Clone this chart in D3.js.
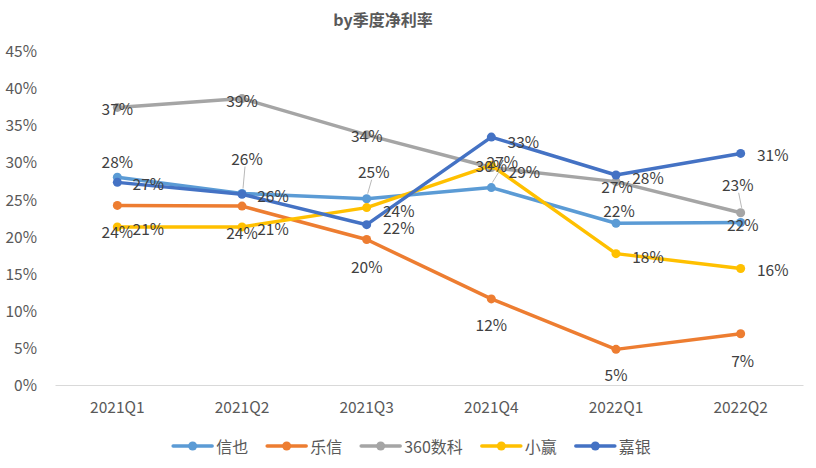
<!DOCTYPE html>
<html><head><meta charset="utf-8">
<script src="https://cdn.jsdelivr.net/npm/d3@7"></script>
<style>
html,body{margin:0;padding:0;background:#fff;}
text{font-family:"Noto Sans CJK SC","Noto Sans",sans-serif;}
</style></head>
<body><svg id="chart" width="816" height="468"></svg>
<script>
const categories = ["2021Q1","2021Q2","2021Q3","2021Q4","2022Q1","2022Q2"];
const yTicks = [0,0.05,0.10,0.15,0.20,0.25,0.30,0.35,0.40,0.45];
const seriesNames = ["信也","乐信","360数科","小赢","嘉银"];
const xinye   = [0.280,0.258,0.251,0.266,0.218,0.219];
const lexin   = [0.242,0.241,0.196,0.116,0.048,0.069];
const s360    = [0.374,0.386,0.337,0.293,0.274,0.232];
const xiaoying= [0.213,0.213,0.239,0.296,0.177,0.157];
const jiayin  = [0.273,0.257,0.216,0.334,0.283,0.312];
const seriesValues = [xinye, lexin, s360, xiaoying, jiayin];
const colors = ["#5B9BD5","#ED7D31","#A5A5A5","#FFC000","#4472C4"];
// label placement offsets (dx, dy) in px relative to each point, plus leader flag
const labelOffsets = [
  [[0,-16],[5,-36,1],[7,-28,1],[11,-27,1],[3,-13],[2,2]],
  [[0,26],[0,26],[0,26],[0,25],[0,25],[2,26]],
  [[0,1],[0,1],[0,0],[33,3],[1,4],[-3,-29,1]],
  [[31,1],[31,1],[32,2],[0,0],[32,2],[32,1]],
  [[31,1],[31,1],[32,2],[32,4],[32,2],[32,1]]
];

const svg = d3.select("#chart");
const margin = {left:55, right:13, top:51, bottom:83};
const W = 816, H = 468;
const x = d3.scaleBand().domain(categories).range([margin.left, W-margin.right]);
const y = d3.scaleLinear().domain([0,0.45]).range([H-margin.bottom, margin.top]);
const cx = d => x(d) + x.bandwidth()/2;
const fmt = d3.format(".0%");
const FS = 15.5;

// title
svg.append("text").attr("x",383).attr("y",19).attr("text-anchor","middle")
  .attr("dominant-baseline","central").attr("font-size",16).attr("font-weight","bold")
  .attr("fill","#595959").text("by季度净利率");

// y axis
const yAxis = d3.axisLeft(y).tickValues(yTicks).tickFormat(fmt).tickSize(0).tickPadding(18);
const gy = svg.append("g").attr("transform",`translate(${margin.left},0)`).call(yAxis);
gy.select(".domain").remove();
gy.selectAll("text").attr("font-size",FS).attr("fill","#595959").attr("dy","0.36em")
  .style("font-family",'"Noto Sans CJK SC","Noto Sans",sans-serif');

// x axis
const xAxis = d3.axisBottom(x).tickSize(0).tickPadding(17);
const gx = svg.append("g").attr("transform",`translate(0,${y(0)})`).call(xAxis);
gx.select(".domain").attr("stroke","#D9D9D9").attr("stroke-width",1);
gx.selectAll("text").attr("font-size",FS).attr("fill","#595959")
  .style("font-family",'"Noto Sans CJK SC","Noto Sans",sans-serif');

// lines & markers
const line = d3.line().x((d,i)=>cx(categories[i])).y(d=>y(d));
seriesValues.forEach((vals,si)=>{
  svg.append("path").datum(vals).attr("d",line).attr("fill","none")
    .attr("stroke",colors[si]).attr("stroke-width",3.5).attr("stroke-linejoin","round").attr("stroke-linecap","round");
  svg.selectAll(null).data(vals).enter().append("circle")
    .attr("cx",(d,i)=>cx(categories[i])).attr("cy",d=>y(d)).attr("r",4.5).attr("fill",colors[si]);
});

// labels
seriesValues.forEach((vals,si)=>{
  vals.forEach((v,i)=>{
    const px = cx(categories[i]), py = y(v);
    const o = labelOffsets[si][i];
    const lx = px+o[0], ly = py+o[1];
    if (o[2]) {
      svg.append("line").attr("x1",px+1).attr("y1",py-5).attr("x2",lx+(o[0]>0?-2:1)).attr("y2",ly+9)
        .attr("stroke","#A6A6A6").attr("stroke-width",0.8);
    }
    svg.append("text").attr("x",lx).attr("y",ly).attr("text-anchor","middle")
      .attr("dominant-baseline","central").attr("font-size",FS).attr("fill","#404040").text(fmt(v));
  });
});

// legend
const leg = svg.append("g");
let xpos = 0;
seriesNames.forEach((n,i)=>{
  const g = leg.append("g");
  g.append("line").attr("x1",0).attr("x2",39).attr("y1",0).attr("y2",0)
    .attr("stroke",colors[i]).attr("stroke-width",3.5).attr("stroke-linecap","round");
  g.append("circle").attr("cx",19.5).attr("cy",0).attr("r",4.5).attr("fill",colors[i]);
  const t = g.append("text").attr("x",43).attr("y",0).attr("dominant-baseline","central")
    .attr("font-size",16).attr("fill","#595959").text(n);
  const w = 43 + t.node().getComputedTextLength();
  g.attr("transform",`translate(${xpos},446)`);
  xpos += w + 19;
});
const total = xpos - 19;
leg.attr("transform",`translate(${412 - total/2},0)`);
</script></body></html>
